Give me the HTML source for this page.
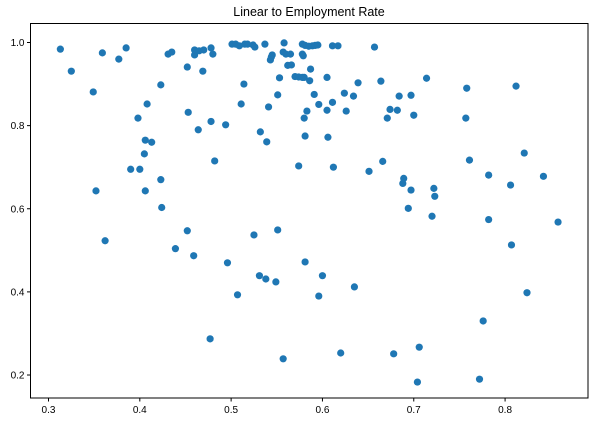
<!DOCTYPE html>
<html><head><meta charset="utf-8"><style>
html,body{margin:0;padding:0;background:#fff;}
svg{display:block;font-family:"Liberation Sans","DejaVu Sans",sans-serif;}
</style></head><body>
<svg id="chart" width="598" height="425" viewBox="0 0 598 425">
<rect width="598" height="425" fill="#fff"/>
<text x="309" y="16" text-anchor="middle" font-size="12.5" fill="#000">Linear to Employment Rate</text>
<g id="marks"></g>
<g id="axes"></g>
<rect x="30.5" y="23.5" width="557.5" height="374.5" fill="none" stroke="#000" stroke-width="1"/>
</svg>
<script>
const xValues = [0.313,0.325,0.349,0.359,0.377,0.385,0.352,0.398,0.390,0.400,0.408,0.406,0.405,0.413,0.406,0.423,0.423,0.424,0.431,0.435,0.452,0.453,0.460,0.460,0.464,0.465,0.469,0.470,0.478,0.478,0.480,0.482,0.494,0.501,0.505,0.509,0.511,0.514,0.515,0.518,0.524,0.526,0.532,0.537,0.539,0.543,0.544,0.545,0.541,0.551,0.553,0.558,0.557,0.560,0.562,0.574,
0.578,0.581,0.585,0.589,0.592,0.595,0.611,0.617,0.657,0.565,0.578,0.579,0.566,0.570,0.574,0.578,0.580,0.587,0.586,0.605,0.639,0.664,0.714,0.758,0.812,0.591,0.624,0.634,0.596,0.611,0.605,0.583,0.580,0.626,0.684,0.697,0.674,0.682,0.671,0.700,0.757,0.581,0.606,0.612,0.651,0.666,0.761,0.821,0.689,0.688,0.697,0.722,0.723,0.782,0.806,0.842,0.694,0.720,0.782,0.858,
0.362,0.452,0.439,0.459,0.496,0.477,0.507,0.525,0.531,0.538,0.549,0.551,0.557,0.581,0.596,0.600,0.620,0.635,0.678,0.704,0.706,0.807,0.824,0.776,0.772];
const yValues = [0.984,0.931,0.881,0.975,0.960,0.987,0.643,0.818,0.695,0.695,0.852,0.765,0.732,0.760,0.643,0.898,0.670,0.603,0.972,0.977,0.941,0.832,0.970,0.982,0.790,0.980,0.931,0.982,0.987,0.810,0.972,0.715,0.802,0.996,0.996,0.992,0.852,0.900,0.996,0.996,0.994,0.989,0.785,0.996,0.761,0.958,0.965,0.970,0.845,0.874,0.915,0.999,0.977,0.972,0.945,0.703,
0.996,0.993,0.991,0.992,0.993,0.994,0.992,0.992,0.989,0.972,0.972,0.968,0.946,0.918,0.917,0.916,0.916,0.936,0.908,0.916,0.903,0.907,0.914,0.890,0.895,0.875,0.878,0.871,0.851,0.856,0.837,0.835,0.818,0.835,0.871,0.873,0.839,0.837,0.818,0.825,0.818,0.775,0.772,0.700,0.690,0.714,0.717,0.734,0.673,0.661,0.645,0.649,0.630,0.681,0.657,0.678,0.601,0.582,0.574,0.568,
0.523,0.547,0.504,0.487,0.470,0.287,0.393,0.537,0.439,0.431,0.424,0.549,0.239,0.472,0.390,0.439,0.253,0.412,0.251,0.183,0.267,0.513,0.398,0.330,0.190];
const xTickLabels = ["0.3","0.4","0.5","0.6","0.7","0.8"];
const yTickLabels = ["0.2","0.4","0.6","0.8","1.0"];

const X0=30.5,X1=588,Y0=23.5,Y1=398;
const xMin=0.2803,xMax=0.8908,yMin=0.1447,yMax=1.0457;
function sx(v){return X0+(v-xMin)/(xMax-xMin)*(X1-X0);}
function sy(v){return Y1-(v-yMin)/(yMax-yMin)*(Y1-Y0);}
const NS="http://www.w3.org/2000/svg";
const marks=document.getElementById('marks');
for(let i=0;i<xValues.length;i++){
  const c=document.createElementNS(NS,'circle');
  c.setAttribute('cx',sx(xValues[i]).toFixed(2));
  c.setAttribute('cy',sy(yValues[i]).toFixed(2));
  c.setAttribute('r','3.6');
  c.setAttribute('fill','#1f77b4');
  
  
  marks.appendChild(c);
}
const axes=document.getElementById('axes');
xTickLabels.forEach(function(t){
  const x=sx(parseFloat(t));
  const l=document.createElementNS(NS,'line');
  l.setAttribute('x1',x);l.setAttribute('x2',x);l.setAttribute('y1',Y1);l.setAttribute('y2',Y1+3.5);
  l.setAttribute('stroke','#000');
  
  
  axes.appendChild(l);
  const tx=document.createElementNS(NS,'text');
  tx.setAttribute('x',x);tx.setAttribute('y',Y1+15);tx.setAttribute('text-anchor','middle');
  tx.setAttribute('font-size','10');tx.setAttribute('fill','#000');
  tx.textContent=t;
  
  
  axes.appendChild(tx);
});
yTickLabels.forEach(function(t){
  const y=sy(parseFloat(t));
  const l=document.createElementNS(NS,'line');
  l.setAttribute('x1',X0-3.5);l.setAttribute('x2',X0);l.setAttribute('y1',y);l.setAttribute('y2',y);
  l.setAttribute('stroke','#000');
  
  
  axes.appendChild(l);
  const tx=document.createElementNS(NS,'text');
  tx.setAttribute('x',X0-6);tx.setAttribute('y',y+3.5);tx.setAttribute('text-anchor','end');
  tx.setAttribute('font-size','10');tx.setAttribute('fill','#000');
  tx.textContent=t;
  
  
  axes.appendChild(tx);
});
</script>
</body></html>
